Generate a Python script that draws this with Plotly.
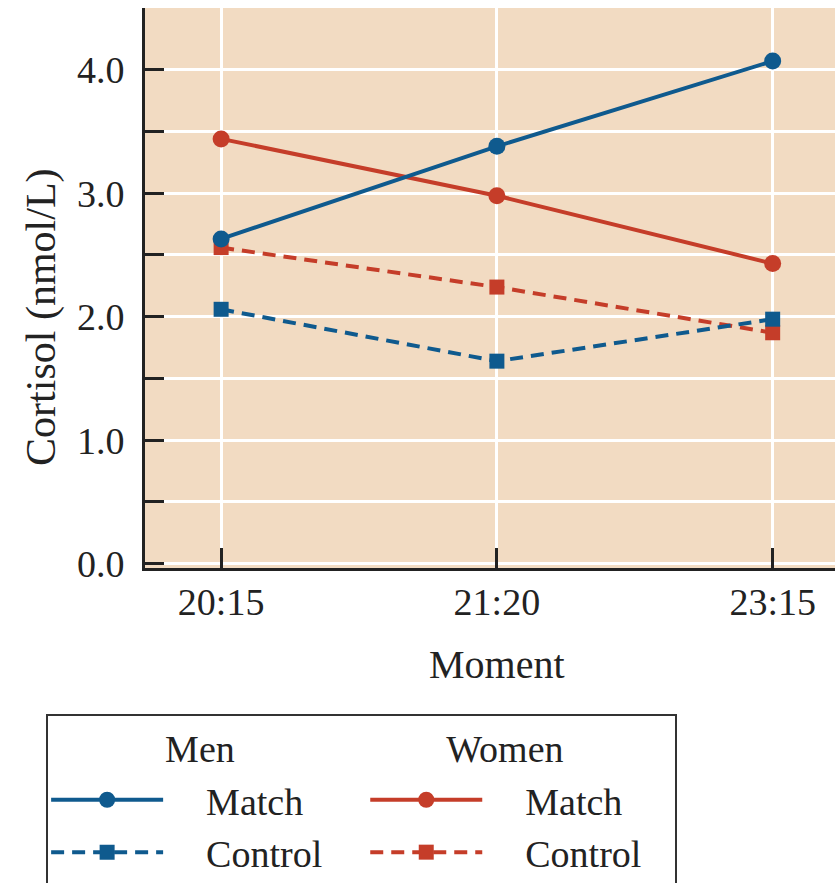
import plotly.graph_objects as go

# Salivary cortisol at three moments of the evening
MOMENTS = ["20:15", "21:20", "23:15"]
MEN_MATCH = [2.63, 3.38, 4.07]
MEN_CONTROL = [2.06, 1.64, 1.98]
WOMEN_MATCH = [3.44, 2.98, 2.43]
WOMEN_CONTROL = [2.56, 2.24, 1.87]

Y_TICK_VALUES = [0, 0.5, 1, 1.5, 2, 2.5, 3, 3.5, 4, 4.5]
Y_TICK_TEXT = ["0.0", "", "1.0", "", "2.0", "", "3.0", "", "4.0", ""]

BLUE = "#0f5a8e"
RED = "#c53d29"
BG = "#f2dbc2"
INK = "#222222"
FONT = "Liberation Serif"
NB = "\u00a0"

fig = go.Figure()

# group, title indent, label, values, colour, dash, symbol, size, rank, trailing pad
series = [
    ("Women", 8, "Match", WOMEN_MATCH, RED, "solid", "circle", 17, 3, 3),
    ("Women", 8, "Control", WOMEN_CONTROL, RED, "13px,8px", "square", 15, 4, 3),
    ("Men", 12, "Match", MEN_MATCH, BLUE, "solid", "circle", 17, 1, 4),
    ("Men", 12, "Control", MEN_CONTROL, BLUE, "13px,8px", "square", 15, 2, 4),
]

for group, indent, name, values, color, dash, symbol, msize, rank, tail in series:
    fig.add_trace(go.Scatter(
        x=MOMENTS,
        y=values,
        mode="lines+markers",
        name=NB * 4 + name + NB * tail,
        legendgroup=group,
        legendgrouptitle=dict(text=NB * indent + group,
                              font=dict(family=FONT, size=38, color=INK)),
        legendrank=rank,
        line=dict(color=color, width=4, dash=dash),
        marker=dict(color=color, size=msize, symbol=symbol),
    ))

fig.update_layout(
    width=835,
    height=883,
    margin=dict(l=145, r=0, t=8, b=315, autoexpand=False),
    paper_bgcolor="white",
    plot_bgcolor=BG,
    font=dict(family=FONT, size=38, color=INK),
    showlegend=True,
    legend=dict(
        orientation="h",
        traceorder="grouped",
        x=-0.1433,
        y=-0.261,
        xanchor="left",
        yanchor="top",
        bgcolor="white",
        bordercolor="#333333",
        borderwidth=2,
        itemwidth=112,
        font=dict(family=FONT, size=38, color=INK),
    ),
)

fig.update_xaxes(
    type="category",
    range=[-0.276, 2.226],
    showgrid=True,
    gridcolor="white",
    gridwidth=3,
    showline=True,
    linecolor=INK,
    linewidth=3,
    ticks="inside",
    ticklen=20,
    tickwidth=3,
    tickcolor=INK,
    ticklabelstandoff=-2,
    tickfont=dict(family=FONT, size=38, color=INK),
    zeroline=False,
)

fig.update_yaxes(
    range=[-0.035, 4.5],
    tickvals=Y_TICK_VALUES,
    ticktext=Y_TICK_TEXT,
    showgrid=True,
    gridcolor="white",
    gridwidth=3,
    showline=True,
    linecolor=INK,
    linewidth=3,
    ticks="inside",
    ticklen=19,
    tickwidth=3,
    tickcolor=INK,
    ticklabelstandoff=10,
    tickfont=dict(family=FONT, size=38, color=INK),
    zeroline=False,
)

# Axis titles
fig.add_annotation(
    text="Moment", xref="x", yref="paper", x=1, y=-0.172,
    xanchor="center", yanchor="middle", showarrow=False,
    font=dict(family=FONT, size=40, color=INK),
)
fig.add_annotation(
    text="Cortisol (nmol/L)", xref="paper", yref="y", x=-0.149, y=2.0,
    xanchor="center", yanchor="middle", textangle=-90, showarrow=False,
    font=dict(family=FONT, size=42, color=INK),
)

fig.write_html("out.html")
